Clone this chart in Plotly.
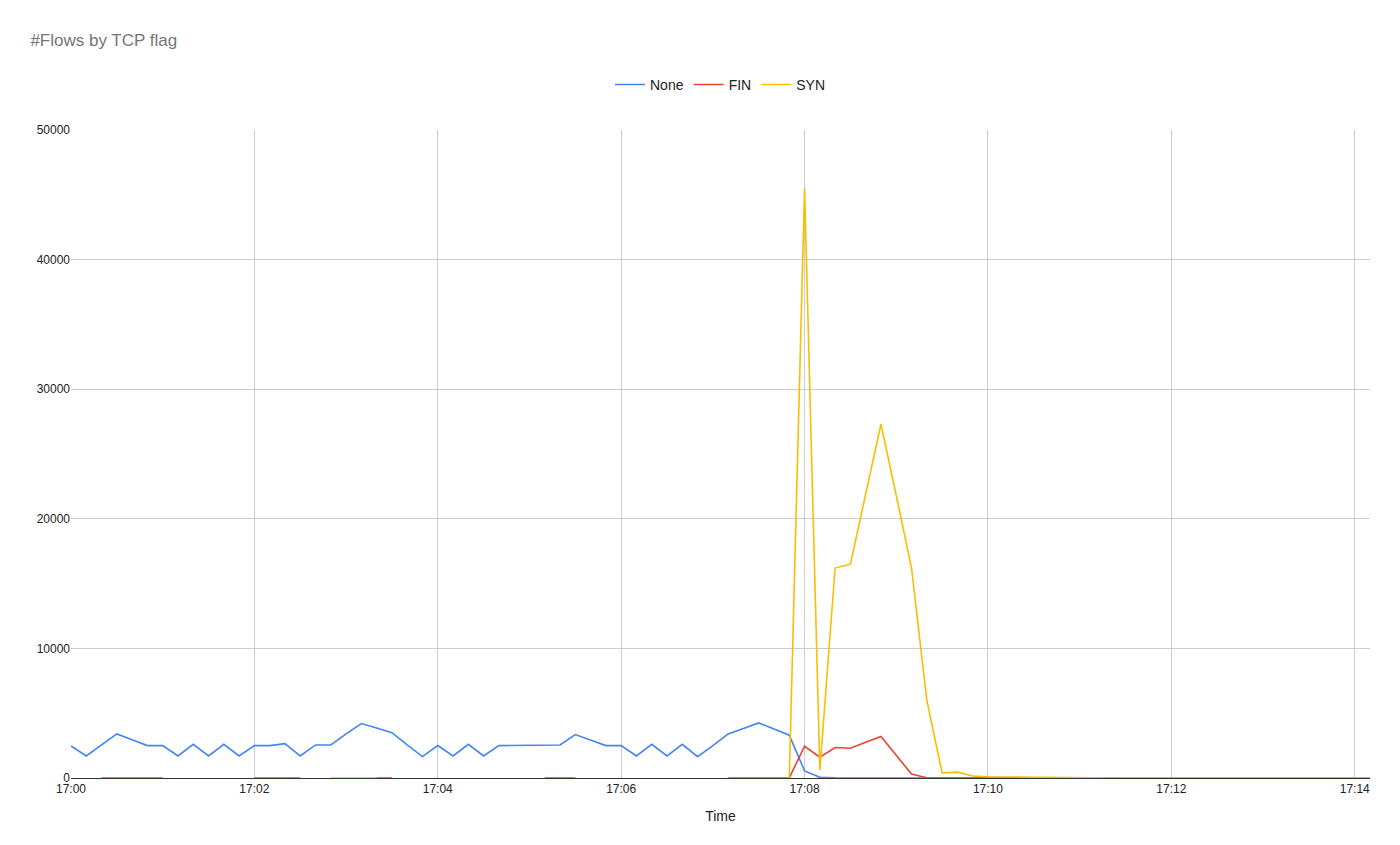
import plotly.graph_objects as go
import pandas as pd

times = pd.date_range("2024-01-01 17:00:00", periods=86, freq="10s")
N = None
none_vals = [2470,1700,2550,3400,2950,2500,2500,1700,2600,1700,2600,1700,
             2500,2500,2650,1700,2550,2550,3400,4200,3850,3500,2550,1650,
             2500,1700,2600,1700,2500,2500,2530,2550,2550,3350,2920,2500,
             2500,1700,2600,1700,2600,1650,2500,3400,3820,4250,3780,3300,
             550,50,20,10,10,10,10,5,5,0,0,0] + [0]*26
fin_vals = [N,N,0,0,0,0,0,N,N,N,N,N,0,0,0,0,N,N,N,N,0,0,N,N,
            N,N,N,N,N,N,N,0,0,0,N,N,N,N,N,N,N,N,N,0,0,0,0,0,
            2450,1600,2350,2300,2750,3200,1750,300,20,0,0,0] + [0]*26
syn_vals = [N]*17 + [0,0,0,0] + [N]*26 + [0,
            45500,600,16200,16500,21900,27300,21800,16200,6000,400,450,150,
            100,80,60,50,40,30,20,10,5,5,0,0] + [0]*14

fig = go.Figure()
for name, vals, col in [("None", none_vals, "#4285f4"), ("FIN", fin_vals, "#ea4335"), ("SYN", syn_vals, "#fbbc04")]:
    fig.add_trace(go.Scatter(x=times, y=vals, name=name, mode="lines",
                             line=dict(color=col, width=1.6), connectgaps=False))

fig.update_layout(
    width=1400, height=845, paper_bgcolor="white", plot_bgcolor="white",
    title=dict(text="#Flows by TCP flag", x=0.016, xanchor="left", y=0.962, yanchor="middle",
               font=dict(size=17, color="#757575", family="Arial")),
    font=dict(family="Arial", size=12, color="#222"),
    legend=dict(orientation="h", x=0.5, xanchor="center", y=1.045, yanchor="bottom", font=dict(size=14),
                itemwidth=30),
    margin=dict(l=63, r=38, t=122, b=75),
    showlegend=True,
)
fig.update_xaxes(title=dict(text="Time", font=dict(size=14)), type="date",
                 range=["2024-01-01 17:00:00", "2024-01-01 17:14:10"],
                 dtick=120000, tickformat="%H:%M", showgrid=True, gridcolor="#cccccc",
                 showline=True, linecolor="#333", ticks="", zeroline=False)
fig.update_yaxes(range=[0, 50000], dtick=10000, gridcolor="#cccccc", zeroline=False,
                 tickformat="d", showline=False, ticks="")
fig.write_html("out.html")
